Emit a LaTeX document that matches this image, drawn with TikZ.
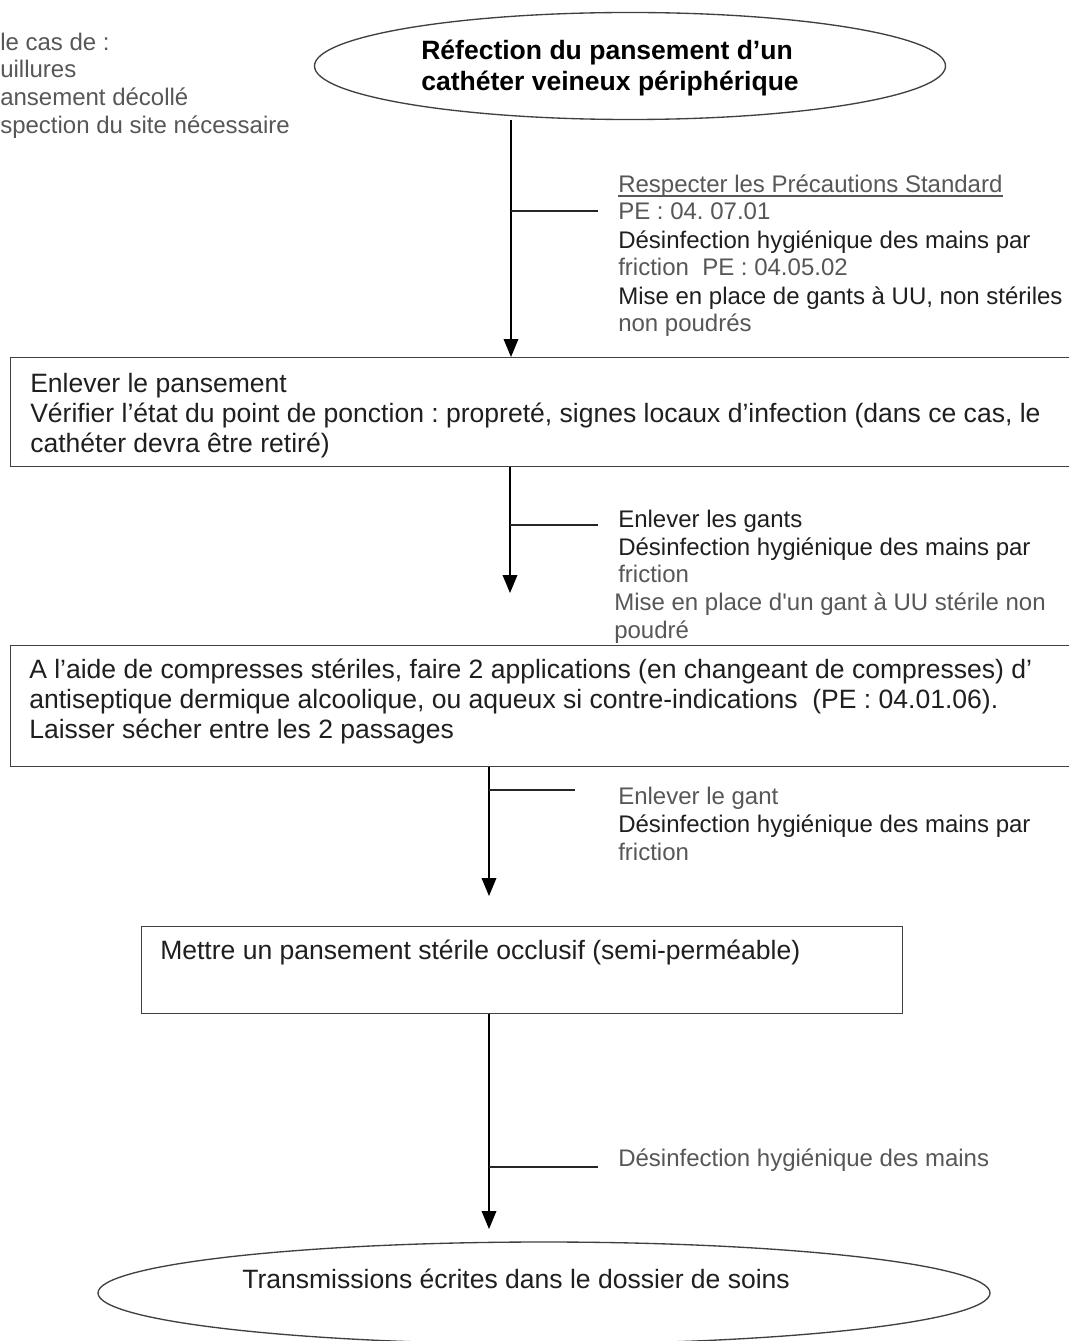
\documentclass[tikz,border=0pt]{standalone}
\usepackage{fontspec}
\setmainfont{Liberation Sans}
\usetikzlibrary{arrows.meta,shapes.geometric}
\frenchspacing
\begin{document}
\begin{tikzpicture}[x=0.75pt,y=-0.75pt,
  txt/.style={anchor=base west, inner sep=0pt, font=\fontsize{18}{21}\selectfont, text=black!88},
  lt/.style={txt, text=black!66},
  btxt/.style={txt, font=\fontsize{19.9}{23}\selectfont},
  ttl/.style={txt, font=\fontsize{19.9}{23}\selectfont\bfseries, text=black},
  box/.style={draw=black!75, line width=1pt, inner sep=0pt, anchor=north west, rectangle},
  oval/.style={draw=black!75, line width=1pt, ellipse, inner sep=0pt},
  arr/.style={draw=black, line width=1pt, -{Triangle[width=11pt,length=13.5pt]}},
  tick/.style={draw=black!85, line width=1pt}]
\useasboundingbox (0,0) rectangle (1069,1341);
\clip (0,0) rectangle (1069,1341);
\fill[white] (0,0) rectangle (1069,1341);

% top-left note (clipped in reference)
\node[lt] (n1) at (0,51) {le cas de :};
\node[lt] (n2) at (0,78) {uillures};
\node[lt] (n3) at (0,106) {ansement décollé};
\node[lt] (n4) at (0,134) {spection du site nécessaire};

% top ellipse
\node[oval, minimum width=473.25pt, minimum height=80.25pt] (e1) at (630,66) {};
\node[ttl] (t1) at (421,60) {Réfection du pansement d’un};
\node[ttl] (t2) at (421,91) {cathéter veineux périphérique};

% box 1
\node[box, minimum width=802.5pt, minimum height=81.75pt] (b1) at (10,357) {};
\node[btxt] (b1a) at (30,392) {Enlever le pansement};
\node[btxt] (b1b) at (30,422) {Vérifier l’état du point de ponction : propreté, signes locaux d’infection (dans ce cas, le};
\node[btxt] (b1c) at (30,452) {cathéter devra être retiré)};

% box 2
\node[box, minimum width=802.5pt, minimum height=90.75pt] (b2) at (10,645) {};
\node[btxt] (b2a) at (29,678) {A l’aide de compresses stériles, faire 2 applications (en changeant de compresses) d’};
\node[btxt] (b2b) at (29,708) {antiseptique dermique alcoolique, ou aqueux si contre-indications\ \ (PE : 04.01.06).};
\node[btxt] (b2c) at (29,738) {Laisser sécher entre les 2 passages};

% box 3
\node[box, minimum width=570.75pt, minimum height=65.25pt] (b3) at (141,926) {};
\node[btxt] (b3a) at (160,959) {Mettre un pansement stérile occlusif (semi-perméable)};

% bottom ellipse
\node[oval, minimum width=669pt, minimum height=76.5pt] (e2) at (544,1293) {};
\node[btxt] (e2a) at (242,1288) {Transmissions écrites dans le dossier de soins};

% connector 1
\coordinate (k1) at (511,211);
\coordinate (k1e) at (598,211);
\draw[arr] (511,0 |- e1.south) -- (511,0 |- b1.north);
\draw[tick] (k1) -- (k1e);
\node[lt] (s1a) at (618,193) {Respecter les Précautions Standard};
\draw[black!66, line width=0.9pt] ([yshift=-2.2pt]s1a.base west) -- ([yshift=-2.2pt]s1a.base east);
\node[lt] (s1b) at (618,220) {PE : 04. 07.01};
\node[txt] (s1c) at (618,248) {Désinfection hygiénique des mains par};
\node[lt] (s1d) at (618,276) {friction\ \ PE : 04.05.02};
\node[txt] (s1e) at (618,304) {Mise en place de gants à UU, non stériles};
\node[lt] (s1f) at (618,331) {non poudrés};

% connector 2
\coordinate (a2) at (510,593);
\coordinate (k2) at (510,525);
\coordinate (k2e) at (598,525);
\draw[arr] (510,0 |- b1.south) -- (a2);
\draw[tick] (k2) -- (k2e);
\node[txt] (s2a) at (618,527) {Enlever les gants};
\node[txt] (s2b) at (618,555) {Désinfection hygiénique des mains par};
\node[lt] (s2c) at (618,582) {friction};
\node[lt] (s2d) at (614,610) {Mise en place d\textquotesingle un gant à UU stérile non};
\node[lt] (s2e) at (614,638) {poudré};

% connector 3
\coordinate (a3) at (489,896);
\coordinate (k3) at (489,790);
\coordinate (k3e) at (575,790);
\draw[arr] (489,0 |- b2.south) -- (a3);
\draw[tick] (k3) -- (k3e);
\node[lt] (s3a) at (618,804) {Enlever le gant};
\node[txt] (s3b) at (618,832) {Désinfection hygiénique des mains par};
\node[lt] (s3c) at (618,860) {friction};

% connector 4
\coordinate (a4) at (489,1229);
\coordinate (k4) at (489,1167);
\coordinate (k4e) at (598,1167);
\draw[arr] (489,0 |- b3.south) -- (a4);
\draw[tick] (k4) -- (k4e);
\node[lt] (s4a) at (618,1166) {Désinfection hygiénique des mains};
\end{tikzpicture}
\end{document}
